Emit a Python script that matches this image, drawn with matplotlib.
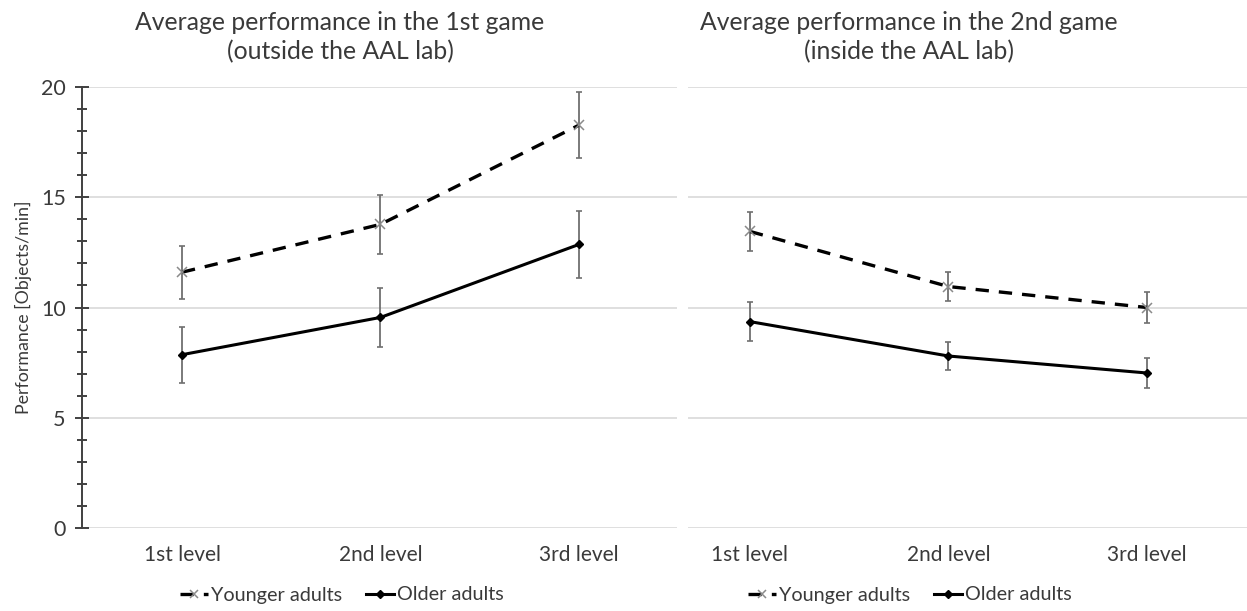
import matplotlib
matplotlib.use("Agg")
import matplotlib.pyplot as plt
from matplotlib.ticker import MultipleLocator

plt.rcParams['font.family'] = ['Lato', 'DejaVu Sans']

levels = ["1st level", "2nd level", "3rd level"]

# Game 1 (outside the AAL lab)
g1_young = [11.6, 13.77, 18.27]
g1_young_err = [1.2, 1.35, 1.5]
g1_old = [7.86, 9.55, 12.86]
g1_old_err = [1.27, 1.32, 1.5]

# Game 2 (inside the AAL lab)
g2_young = [13.45, 10.95, 10.0]
g2_young_err = [0.9, 0.65, 0.7]
g2_old = [9.36, 7.8, 7.03]
g2_old_err = [0.9, 0.65, 0.7]

titles = ["Average performance in the 1st game\n(outside the AAL lab)",
          "Average performance in the 2nd game\n(inside the AAL lab)"]
ylabel = "Performance [Objects/min]"

W, H = 1247, 611
fig = plt.figure(figsize=(W / 100, H / 100), dpi=100)

text_col = "#3a3a3a"
grid_col = "#d9d9d9"
err_col = "#6f6f6f"


def px_axes(x0, x1, y0, y1):
    return fig.add_axes([x0 / W, 1 - y1 / H, (x1 - x0) / W, (y1 - y0) / H])


ax1 = px_axes(82, 677, 87, 528)
ax2 = px_axes(688, 1247, 87, 528)


def draw(ax, young, yerr, old, oerr):
    x = list(range(len(levels)))
    ax.errorbar(x, young, yerr=yerr, fmt='none', ecolor=err_col, elinewidth=1.3,
                capsize=2.5, capthick=1.2, zorder=3)
    ax.errorbar(x, old, yerr=oerr, fmt='none', ecolor=err_col, elinewidth=1.3,
                capsize=2.5, capthick=1.2, zorder=3)
    ly, = ax.plot(x, young, color="black", lw=2.4, ls=(0, (4, 3)), zorder=4,
                  marker='x', ms=7, mec="#8a8a8a", mew=1.1)
    lo, = ax.plot(x, old, color="black", lw=2.2, ls='-', zorder=4,
                  marker='D', ms=4.5, mfc='black', mec='black')
    ax.set_ylim(0, 20)
    ax.yaxis.set_major_locator(MultipleLocator(5))
    ax.yaxis.set_minor_locator(MultipleLocator(1))
    ax.grid(axis='y', which='major', color=grid_col, lw=1.2, zorder=0)
    ax.set_axisbelow(True)
    for s in ax.spines.values():
        s.set_visible(False)
    ax.set_xticks(x)
    ax.set_xticklabels(levels, fontsize=15, color=text_col)
    ax.tick_params(axis='x', length=0, pad=12)
    return ly, lo


ly, lo = draw(ax1, g1_young, g1_young_err, g1_old, g1_old_err)
draw(ax2, g2_young, g2_young_err, g2_old, g2_old_err)

ax1.set_xlim(-0.504, 2.494)
ax2.set_xlim(-0.312, 2.504)

ax1.spines['left'].set_visible(True)
ax1.spines['left'].set_color("#404040")
ax1.spines['left'].set_linewidth(1.4)
ax1.tick_params(axis='y', which='major', direction='inout', length=9.5, width=1.4,
                color="#404040", labelsize=15.5, labelcolor=text_col, pad=7)
ax1.tick_params(axis='y', which='minor', direction='inout', length=7.5, width=1.4,
                color="#404040")
ax1.set_ylabel(ylabel, fontsize=12.8, color=text_col, labelpad=6)

ax2.tick_params(axis='y', which='both', length=0, labelleft=False)

fig.text(340 / W, 1 - 37 / H, titles[0], ha='center', va='center', fontsize=17.8,
         color=text_col, linespacing=1.3)
fig.text(909 / W, 1 - 37 / H, titles[1], ha='center', va='center', fontsize=17.8,
         color=text_col, linespacing=1.3)

for cx in (342, 910):
    fig.legend([ly, lo], ["Younger adults", "Older adults"], loc='center',
               bbox_to_anchor=(cx / W, 1 - 595 / H), ncol=2, frameon=False,
               fontsize=14.3, labelcolor=text_col, handlelength=1.4,
               handletextpad=0.15, columnspacing=1.2, markerscale=0.8)

fig.savefig("out.png", dpi=100, facecolor="white")
